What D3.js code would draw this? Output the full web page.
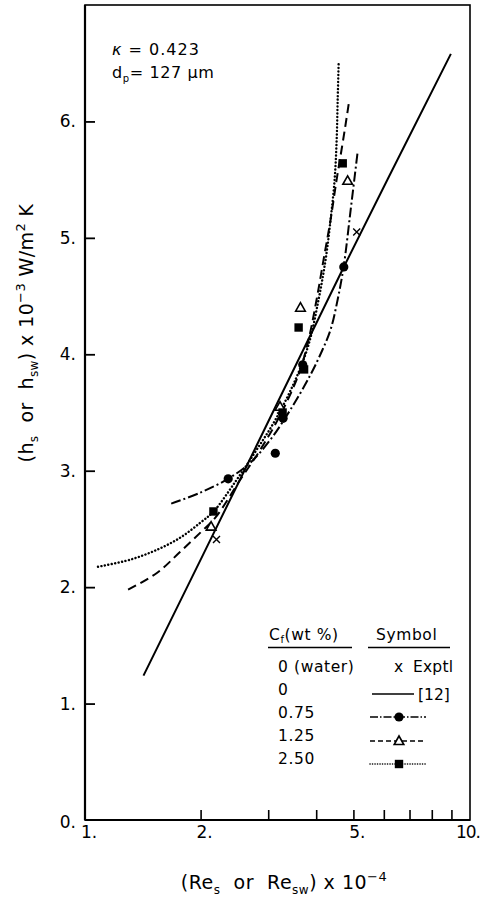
<!DOCTYPE html>
<html><head><meta charset="utf-8">
<script src="https://cdn.jsdelivr.net/npm/d3@7"></script>
<style>body{margin:0;background:#fff} svg{display:block} text{white-space:pre}</style>
</head><body><svg id="c" width="483" height="899"></svg>
<script>
// Axis ticks
const xMajorTicks = [1, 2, 5, 10];
const xMajorLabels = ["1.", "2.", "5.", "10."];
const xMinorTicks = [2, 3, 4, 5, 6, 7, 8, 9];
const yTicks = [0, 1, 2, 3, 4, 5, 6];
const yTickLabels = ["0.", "1.", "2.", "3.", "4.", "5.", "6."];

// Correlation curves: [Re x 1e-4, h x 1e-3]
const curveRef12 = [[1.42, 1.24], [2.6, 3.0], [4.72, 4.75], [8.97, 6.58]];
const curve075 = [[1.677, 2.717], [1.997, 2.812], [2.362, 2.932], [2.697, 3.070], [3.041, 3.268],
  [3.430, 3.526], [3.869, 3.827], [4.157, 4.041], [4.362, 4.213], [4.550, 4.471], [4.717, 4.755],
  [4.920, 5.245], [5.131, 5.744]];
const curve125 = [[1.295, 1.978], [1.542, 2.124], [1.770, 2.304], [1.997, 2.468], [2.185, 2.597],
  [2.539, 2.924], [2.863, 3.182], [3.229, 3.482], [3.599, 3.826], [3.822, 4.127], [4.010, 4.471],
  [4.182, 4.815], [4.362, 5.159], [4.523, 5.503], [4.659, 5.761], [4.772, 5.976], [4.860, 6.148]];
const curve250 = [[1.081, 2.175], [1.311, 2.236], [1.542, 2.322], [1.770, 2.425], [1.997, 2.554],
  [2.159, 2.648], [2.464, 2.906], [2.779, 3.164], [3.134, 3.439], [3.534, 3.783], [3.822, 4.084],
  [4.058, 4.471], [4.233, 4.815], [4.362, 5.159], [4.468, 5.503], [4.523, 5.847], [4.550, 6.191],
  [4.577, 6.509]];

// Measured points
const exptlWater = [[2.2, 2.41], [3.23, 3.47], [5.1, 5.05]];
const pts075 = [[2.36, 2.93], [3.13, 3.15], [3.28, 3.45], [3.69, 3.91], [4.72, 4.75]];
const pts125 = [[2.13, 2.52], [3.22, 3.55], [3.64, 4.40], [4.83, 5.49]];
const pts250 = [[2.16, 2.65], [3.27, 3.50], [3.72, 3.87], [3.60, 4.23], [4.69, 5.64]];

// Legend rows
const legendConc = ["0 (water)", "0", "0.75", "1.25", "2.50"];

const svg = d3.select("#c");
const FONT = "DejaVu Sans, sans-serif";
const L = 85, R = 469, T = 5, B = 820;

const x = d3.scaleLog().domain([1, 10]).range([L, R]);
const y = d3.scaleLinear().domain([0, 7]).range([B, T]);

// Frame
svg.append("rect").attr("x", L).attr("y", T).attr("width", 470 - L).attr("height", B - T)
  .attr("fill", "none").attr("stroke", "#000").attr("stroke-width", 1.6);
svg.append("line").attr("x1", L).attr("x2", L).attr("y1", T).attr("y2", B)
  .attr("stroke", "#000").attr("stroke-width", 2.2);
svg.append("line").attr("x1", L).attr("x2", 470).attr("y1", B).attr("y2", B)
  .attr("stroke", "#000").attr("stroke-width", 2.2);

// Axes (ticks pointing inward)
const yAxis = d3.axisRight(y).tickValues(yTicks).tickSize(10).tickFormat("");
const gy = svg.append("g").attr("transform", `translate(${L},0)`).call(yAxis);
gy.select(".domain").remove();
gy.selectAll(".tick line").attr("stroke-width", 1.8);
gy.selectAll(".tick").filter(d => d === 0).remove();

const xAxis = d3.axisTop(x).tickValues(xMinorTicks).tickSize(10).tickFormat("");
const gx = svg.append("g").attr("transform", `translate(0,${B})`).call(xAxis);
gx.select(".domain").remove();
gx.selectAll(".tick line").attr("stroke-width", 1.6);

// Tick labels
svg.append("g").selectAll("text").data(yTicks).join("text")
  .attr("x", 76).attr("y", d => y(d) + 6 + (d === 0 ? 2 : 0))
  .attr("text-anchor", "end").attr("font-family", FONT).attr("font-size", 17)
  .text((d, i) => yTickLabels[i]);
svg.append("g").selectAll("text").data(xMajorTicks).join("text")
  .attr("x", d => d === 10 ? 468 : x(d) + 4).attr("y", 838)
  .attr("text-anchor", "middle").attr("font-family", FONT).attr("font-size", 17)
  .attr("letter-spacing", d => d === 10 ? -1 : 0)
  .text((d, i) => xMajorLabels[i]);

// Axis titles
const xt = svg.append("text").attr("x", 284).attr("y", 889).attr("text-anchor", "middle")
  .attr("font-family", FONT).attr("font-size", 19).attr("letter-spacing", 0.5);
xt.append("tspan").text("(Re");
xt.append("tspan").attr("dy", 5).attr("font-size", 12).text("s");
xt.append("tspan").attr("dy", -5).text("  or  Re");
xt.append("tspan").attr("dy", 5).attr("font-size", 12).text("sw");
xt.append("tspan").attr("dy", -5).text(") x 10");
xt.append("tspan").attr("dy", -8).attr("font-size", 13).text("−4");

const yt = svg.append("text").attr("transform", "translate(33,333) rotate(-90)")
  .attr("text-anchor", "middle").attr("font-family", FONT).attr("font-size", 19)
  .attr("letter-spacing", 0.4);
yt.append("tspan").text("(h");
yt.append("tspan").attr("dy", 5).attr("font-size", 12).text("s");
yt.append("tspan").attr("dy", -5).text("  or  h");
yt.append("tspan").attr("dy", 5).attr("font-size", 12).text("sw");
yt.append("tspan").attr("dy", -5).text(") x 10");
yt.append("tspan").attr("dy", -8).attr("font-size", 13).text("−3");
yt.append("tspan").attr("dy", 8).text(" W/m");
yt.append("tspan").attr("dy", -8).attr("font-size", 13).text("2");
yt.append("tspan").attr("dy", 8).text(" K");

// Annotations
const a1 = svg.append("text").attr("x", 112).attr("y", 55).attr("font-family", FONT).attr("font-size", 16)
  .attr("letter-spacing", 1);
a1.append("tspan").attr("font-style", "italic").text("κ");
a1.append("tspan").text(" = 0.423");
const a2 = svg.append("text").attr("x", 112).attr("y", 78).attr("font-family", FONT).attr("font-size", 16)
  .attr("letter-spacing", 0.6);
a2.append("tspan").text("d");
a2.append("tspan").attr("dy", 4).attr("font-size", 10).text("p");
a2.append("tspan").attr("dy", -4).text("= 127 μm");

// Curves
const line = d3.line().x(d => x(d[0])).y(d => y(d[1])).curve(d3.curveCatmullRom.alpha(0.5));
const styles = {
  solid: { dash: null, w: 2, cap: "butt" },
  dashdot: { dash: "10,3,2,3", w: 2, cap: "butt" },
  dashed: { dash: "9,5", w: 2, cap: "butt" },
  dotted: { dash: "0.1,3.4", w: 2.4, cap: "round" }
};
function drawCurve(data, st) {
  svg.append("path").datum(data).attr("d", line).attr("fill", "none").attr("stroke", "#000")
    .attr("stroke-width", st.w).attr("stroke-dasharray", st.dash).attr("stroke-linecap", st.cap);
}
drawCurve(curveRef12, styles.solid);
drawCurve(curve075, styles.dashdot);
drawCurve(curve125, styles.dashed);
drawCurve(curve250, styles.dotted);

// Markers
function circle(g, cx, cy) { g.append("circle").attr("cx", cx).attr("cy", cy).attr("r", 4.6).attr("fill", "#000"); }
function tri(g, cx, cy) {
  g.append("path").attr("d", `M${cx},${cy - 5}L${cx + 4.8},${cy + 3.5}L${cx - 4.8},${cy + 3.5}Z`)
    .attr("fill", "#fff").attr("stroke", "#000").attr("stroke-width", 1.6);
}
function sq(g, cx, cy) { g.append("rect").attr("x", cx - 4.2).attr("y", cy - 4.2).attr("width", 8.4).attr("height", 8.4).attr("fill", "#000"); }
function cross(g, cx, cy) {
  g.append("path").attr("d", `M${cx - 3.5},${cy - 3.5}L${cx + 3.5},${cy + 3.5}M${cx + 3.5},${cy - 3.5}L${cx - 3.5},${cy + 3.5}`)
    .attr("stroke", "#000").attr("stroke-width", 1.4);
}
const gm = svg.append("g");
pts125.forEach(d => tri(gm, x(d[0]), y(d[1])));
pts075.forEach(d => circle(gm, x(d[0]), y(d[1])));
pts250.forEach(d => sq(gm, x(d[0]), y(d[1])));
exptlWater.forEach(d => cross(gm, x(d[0]), y(d[1])));

// Legend
const lg = svg.append("g").attr("font-family", FONT).attr("font-size", 15.5).attr("letter-spacing", 0.6);
const h1 = lg.append("text").attr("x", 269).attr("y", 640);
h1.append("tspan").text("C");
h1.append("tspan").attr("dy", 3).attr("font-size", 10).text("f");
h1.append("tspan").attr("dy", -3).text("(wt %)");
lg.append("text").attr("x", 376).attr("y", 640).text("Symbol");
lg.append("line").attr("x1", 268).attr("x2", 352).attr("y1", 647.5).attr("y2", 647.5).attr("stroke", "#000").attr("stroke-width", 1.4);
lg.append("line").attr("x1", 368).attr("x2", 450).attr("y1", 647.5).attr("y2", 647.5).attr("stroke", "#000").attr("stroke-width", 1.4);
const rowY = [666, 689, 712, 735, 758];
legendConc.forEach((t, i) => lg.append("text").attr("x", 278).attr("y", rowY[i] + 6).text(t));
lg.append("text").attr("x", 394).attr("y", 672).text("x");
lg.append("text").attr("x", 413).attr("y", 672).attr("letter-spacing", 0.2).text("Exptl");
lg.append("line").attr("x1", 372).attr("x2", 414).attr("y1", 694).attr("y2", 694).attr("stroke", "#000").attr("stroke-width", 1.6);
lg.append("text").attr("x", 418).attr("y", 694 + 6).attr("letter-spacing", 0).text("[12]");
const symRows = [
  { yy: 717, st: styles.dashdot, mk: circle },
  { yy: 741, st: styles.dashed, mk: tri },
  { yy: 764, st: styles.dotted, mk: sq }
];
symRows.forEach(r => {
  const sw = r.st === styles.dotted ? 1.6 : 1.4;
  lg.append("line").attr("x1", 370).attr("x2", 426).attr("y1", r.yy).attr("y2", r.yy)
    .attr("stroke", "#000").attr("stroke-width", sw)
    .attr("stroke-dasharray", r.st === styles.dotted ? "0.1,2.4" : r.st === styles.dashdot ? "8,2,1.5,2" : "5,3")
    .attr("stroke-linecap", r.st.cap);
  r.mk(lg, 399, r.yy);
});
</script>
</body></html>
